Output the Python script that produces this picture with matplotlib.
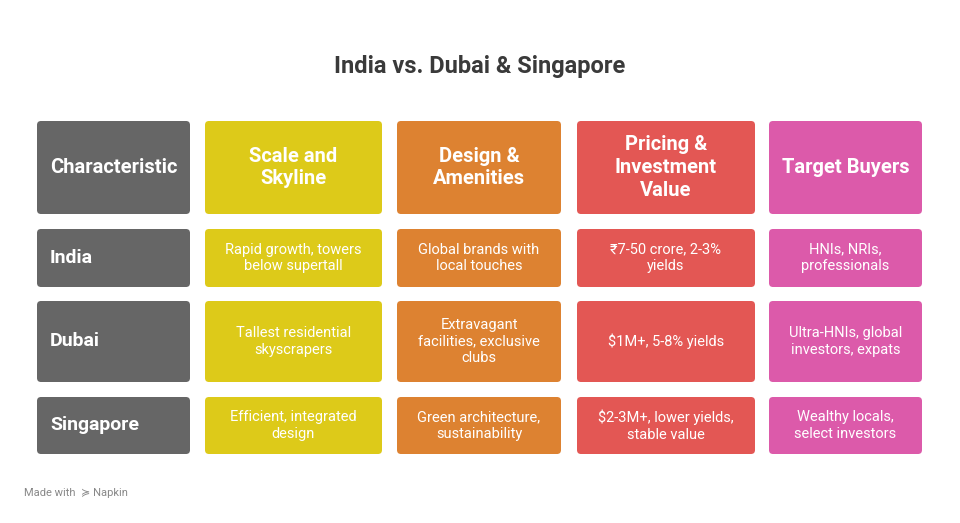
import matplotlib.pyplot as plt
from matplotlib.patches import FancyBboxPatch

plt.rcParams['font.family'] = ['Roboto', 'DejaVu Sans']

title = "India vs. Dubai & Singapore"
headers = ["Characteristic", "Scale and\nSkyline", "Design &\nAmenities",
           "Pricing &\nInvestment\nValue", "Target Buyers"]
rows = ["India", "Dubai", "Singapore"]
cells = [
    ["Rapid growth, towers\nbelow supertall", "Global brands with\nlocal touches",
     "₹7-50 crore, 2-3%\nyields", "HNIs, NRIs,\nprofessionals"],
    ["Tallest residential\nskyscrapers", "Extravagant\nfacilities, exclusive\nclubs",
     "$1M+, 5-8% yields", "Ultra-HNIs, global\ninvestors, expats"],
    ["Efficient, integrated\ndesign", "Green architecture,\nsustainability",
     "$2-3M+, lower yields,\nstable value", "Wealthy locals,\nselect investors"],
]
colors = ["#666666", "#DDCA19", "#DD8231", "#E35754", "#DC5AAA"]

col_x = [(37, 190), (205, 382), (397, 561), (577, 755), (769, 922)]
row_y = [(121, 214), (229, 287), (301, 382), (397, 454)]

fig = plt.figure(figsize=(9.6, 5.23), dpi=100)
ax = fig.add_axes([0, 0, 1, 1])
ax.set_xlim(0, 960)
ax.set_ylim(523, 0)
ax.axis('off')

ax.text(480, 66, title, ha='center', va='center', fontsize=17,
        fontweight='bold', color='#3a3a3a')

for r, (y0, y1) in enumerate(row_y):
    for c, (x0, x1) in enumerate(col_x):
        box = FancyBboxPatch((x0, y0), x1 - x0, y1 - y0,
                             boxstyle="round,pad=0,rounding_size=4",
                             fc=colors[c], ec='none')
        ax.add_patch(box)
        cy = (y0 + y1) / 2
        if r == 0:
            ax.text((x0 + x1) / 2, cy, headers[c], ha='center', va='center',
                    fontsize=14.5, fontweight='bold', color='white', linespacing=1.25)
        elif c == 0:
            ax.text(x0 + 13, cy, rows[r - 1], ha='left', va='center',
                    fontsize=14, fontweight='bold', color='white')
        else:
            ax.text((x0 + x1) / 2, cy, cells[r - 1][c - 1], ha='center', va='center',
                    fontsize=10.5, color='white', linespacing=1.25)

ax.text(24, 493, "Made with  ≽ Napkin", ha='left', va='center', fontsize=8, color='#888888')

fig.savefig("out.png", dpi=100)
